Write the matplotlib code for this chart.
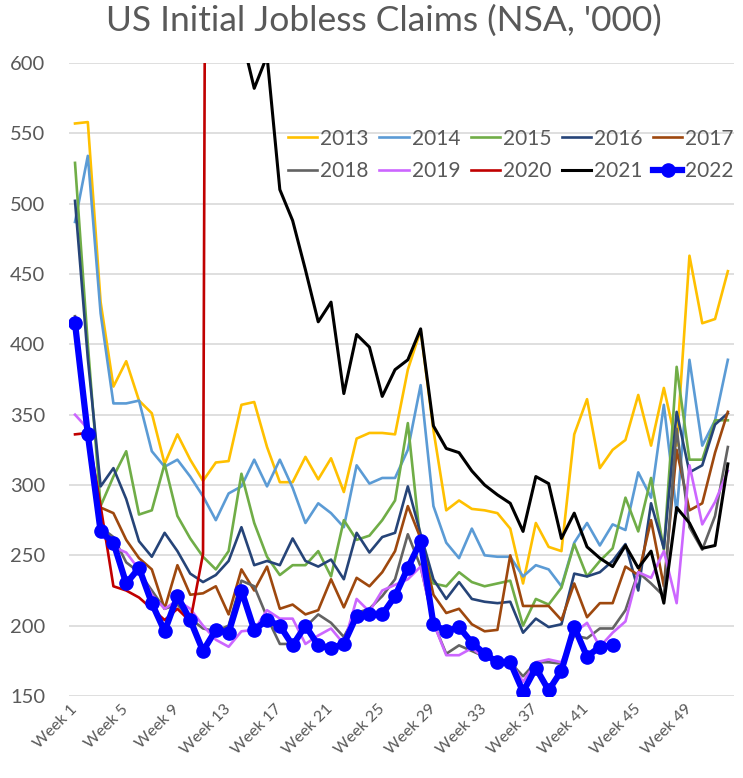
import matplotlib
matplotlib.use("Agg")
import matplotlib.pyplot as plt
import numpy as np

plt.rcParams['font.family'] = ['Lato', 'DejaVu Sans']

weeks = list(range(1, 53))
tick_weeks = list(range(1, 53, 4))
tick_labels = [f"Week {w}" for w in tick_weeks]

y2013 = [557, 558, 430, 370, 388, 360, 351, 315, 336, 318, 303, 316, 317, 357, 359, 327, 302, 302, 320, 304,
         319, 295, 333, 337, 337, 336, 382, 410, 339, 282, 289, 283, 282, 280, 269, 230, 273, 256, 253, 336,
         361, 312, 325, 332, 364, 328, 369, 328, 463, 415, 418, 452]
y2014 = [487, 534, 422, 358, 358, 360, 324, 313, 318, 306, 292, 275, 294, 299, 318, 299, 318, 298, 273, 287,
         280, 270, 314, 301, 305, 305, 325, 371, 285, 259, 248, 269, 250, 249, 249, 235, 243, 240, 228, 259,
         273, 257, 272, 268, 309, 291, 357, 280, 389, 328, 346, 389]
y2015 = [529, 400, 285, 306, 324, 279, 282, 315, 278, 262, 249, 240, 253, 308, 273, 249, 236, 243, 243, 253,
         235, 275, 261, 264, 275, 289, 344, 258, 230, 228, 238, 231, 228, 230, 232, 200, 219, 215, 227, 258,
         235, 246, 255, 291, 267, 305, 254, 384, 318, 318, 346, 346]
y2016 = [502, 390, 299, 312, 290, 260, 249, 266, 253, 237, 231, 236, 246, 270, 243, 246, 243, 262, 246, 242,
         247, 233, 266, 252, 263, 266, 299, 265, 233, 219, 231, 219, 217, 216, 217, 195, 205, 199, 201, 237,
         235, 238, 246, 258, 225, 287, 255, 352, 309, 314, 343, 351]
y2017 = [410, 335, 284, 280, 261, 248, 240, 212, 243, 222, 223, 228, 208, 240, 225, 242, 212, 215, 208, 211,
         233, 213, 234, 228, 238, 253, 285, 262, 222, 209, 212, 201, 196, 197, 250, 214, 214, 214, 204, 230,
         206, 216, 216, 242, 236, 275, 228, 325, 282, 287, 323, 352]
y2018 = [420, 340, 270, 263, 245, 238, 225, 212, 215, 205, 198, 196, 200, 232, 228, 206, 187, 187, 199, 208,
         202, 192, 209, 212, 221, 233, 265, 242, 202, 180, 186, 182, 178, 176, 174, 164, 174, 174, 173, 193,
         191, 198, 198, 211, 238, 230, 221, 340, 270, 254, 278, 327]
y2019 = [350, 340, 265, 256, 252, 240, 222, 212, 218, 212, 200, 190, 185, 196, 197, 211, 205, 205, 187, 193,
         198, 187, 219, 210, 225, 229, 233, 242, 202, 179, 179, 184, 177, 175, 175, 160, 174, 176, 174, 195,
         202, 185, 195, 203, 238, 234, 253, 216, 314, 272, 288, 310]
y2020 = [336, 337, 285, 228, 225, 220, 212, 204, 212, 203, 251, 2920, 6015, 6211, 4971, 4267, 3415, 2849, 2446, 2136,
         1878, 1466, 1427, 1508, 1315, 1400, 1492, 1430, 1300, 1000, 970, 900, 860, 830, 860, 770, 780, 750, 700, 740,
         700, 720, 690, 730, 780, 710, 700, 940, 850, 900, 1000, 1100]
y2021 = [1150, 1050, 950, 860, 900, 840, 790, 770, 730, 770, 720, 680, 650, 620, 582, 605, 510, 488, 453, 416,
         430, 365, 407, 398, 363, 382, 389, 411, 342, 326, 323, 310, 300, 293, 287, 267, 306, 301, 262, 280,
         256, 248, 242, 257, 241, 253, 216, 284, 273, 255, 257, 315]
y2022 = [415, 336, 267, 259, 230, 241, 216, 196, 221, 204, 182, 197, 195, 225, 197, 204, 200, 186, 200, 186,
         184, 187, 207, 208, 208, 221, 241, 260, 201, 196, 199, 188, 180, 174, 174, 153, 170, 154, 168, 199,
         178, 185, 186]

series = [
    ("2013", y2013, "#FFC000"),
    ("2014", y2014, "#5B9BD5"),
    ("2015", y2015, "#70AD47"),
    ("2016", y2016, "#264478"),
    ("2017", y2017, "#9E480E"),
    ("2018", y2018, "#636363"),
    ("2019", y2019, "#CC66FF"),
    ("2020", y2020, "#C00000"),
    ("2021", y2021, "#000000"),
]

fig = plt.figure(figsize=(7.43, 7.78), dpi=100)
ax = fig.add_axes([69/743, 82/778, (734-69)/743, (715-82)/778])

handles = []
for name, vals, col in series:
    lw = 2.2 if name == "2021" else 1.9
    h, = ax.plot(weeks[:len(vals)], vals, color=col, lw=lw, label=name)
    handles.append(h)
h, = ax.plot(weeks[:len(y2022)], y2022, color="#0000FF", lw=4.5, marker="o", markersize=9.5,
             label="2022", zorder=10)
handles.append(h)

ax.set_ylim(150, 600)
ax.set_xlim(0.53, 52.48)
ax.set_yticks(np.arange(150, 601, 50))
ax.set_xticks(tick_weeks)
ax.set_xticklabels(tick_labels, rotation=45, ha="right", rotation_mode="anchor", va="center",
                   fontsize=11.5, color="#595959")
ax.tick_params(axis="y", labelsize=14.5, colors="#595959", length=0, pad=17)
ax.tick_params(axis="x", length=0, pad=8)
ax.grid(axis="y", color="#D9D9D9", lw=1.2)
ax.set_axisbelow(True)
for s in ax.spines.values():
    s.set_visible(False)

fig.text(384/743, 1 - 21/778, "US Initial Jobless Claims (NSA, '000)", ha="center", va="center",
         fontsize=25.5, color="#595959")

# row-major legend order for 2 rows x 5 columns
order = []
for c in range(5):
    order += [c, c + 5]
fig.legend([handles[i] for i in order], [handles[i].get_label() for i in order],
           loc="center", bbox_to_anchor=(511/743, 1 - 155/778), bbox_transform=fig.transFigure,
           ncol=5, frameon=False, fontsize=15, handlelength=1.4, handletextpad=0.15,
           columnspacing=0.5, labelspacing=0.6, borderpad=0, labelcolor="#595959")

fig.savefig("out.png", dpi=100)
